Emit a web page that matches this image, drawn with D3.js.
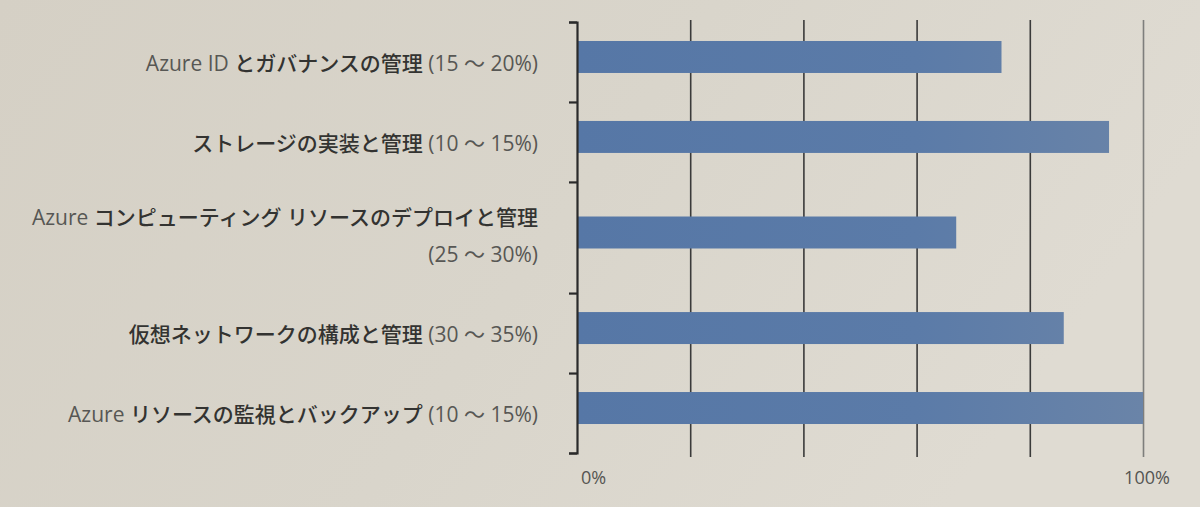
<!DOCTYPE html>
<html>
<head>
<meta charset="utf-8">
<script src="https://cdn.jsdelivr.net/npm/d3@7"></script>
<style>
  html, body { margin: 0; padding: 0; background: #d8d4cb; }
  svg { display: block; }
</style>
</head>
<body>
<svg id="chart" width="1200" height="507"></svg>
<script>
// ---- data ----
const categories = [
  "Azure ID とガバナンスの管理 (15 ～ 20%)",
  "ストレージの実装と管理 (10 ～ 15%)",
  "Azure コンピューティング リソースのデプロイと管理\n(25 ～ 30%)",
  "仮想ネットワークの構成と管理 (30 ～ 35%)",
  "Azure リソースの監視とバックアップ (10 ～ 15%)"
];
const values = [75, 94, 67, 86, 100];
const xTickValues = [0, 20, 40, 60, 80, 100];
const xTickLabels = ["0%", "", "", "", "", "100%"];

// ---- layout ----
const W = 1200, H = 507;
const plotLeft = 577, plotRight = 1143, plotTop = 22, plotBottom = 453;
const latinFont = 21, cjkFont = 21;

const svg = d3.select("#chart");

// background (photo-like paper tone)
const defs = svg.append("defs");
const bg = defs.append("linearGradient").attr("id", "bg")
  .attr("x1", "0").attr("y1", "0").attr("x2", "1").attr("y2", "0.3");
bg.append("stop").attr("offset", "0").attr("stop-color", "#d5d0c5");
bg.append("stop").attr("offset", "0.55").attr("stop-color", "#d9d5cb");
bg.append("stop").attr("offset", "1").attr("stop-color", "#dfdbd2");
svg.append("rect").attr("width", W).attr("height", H).attr("fill", "url(#bg)");

const barGrad = defs.append("linearGradient").attr("id", "barfill")
  .attr("gradientUnits", "userSpaceOnUse")
  .attr("x1", plotLeft).attr("y1", 0).attr("x2", plotRight).attr("y2", 0);
barGrad.append("stop").attr("offset", "0").attr("stop-color", "#5677a6");
barGrad.append("stop").attr("offset", "0.6").attr("stop-color", "#5b7ba8");
barGrad.append("stop").attr("offset", "1").attr("stop-color", "#6a84a8");

// scales
const x = d3.scaleLinear().domain([0, 100]).range([plotLeft, plotRight]);

const lineCounts = categories.map(c => c.split("\n").length);
const weights = lineCounts.map(n => 1 + 0.39 * (n - 1));
const bounds = [0, ...d3.cumsum(weights)];
const total = bounds[bounds.length - 1];
const yU = d3.scaleLinear().domain([0, total]).range([plotTop, plotBottom]);
const bandCenter = i => (yU(bounds[i]) + yU(bounds[i + 1])) / 2;
const unitPx = yU(1) - yU(0);
const barH = unitPx * 0.4;

// vertical gridlines (x axis ticks)
const gridAxis = d3.axisBottom(x)
  .tickValues(xTickValues.filter(v => v > 0))
  .tickSize(-(457 - 20))
  .tickFormat("");
const gGrid = svg.append("g").attr("transform", "translate(0,457)").call(gridAxis);
gGrid.select(".domain").remove();
gGrid.selectAll(".tick line")
  .attr("stroke", d => d === 100 ? "#7e7e7c" : "#3a3a3a")
  .attr("stroke-width", 1.6);

// bars
svg.append("g").selectAll("rect")
  .data(values)
  .join("rect")
  .attr("x", x(0))
  .attr("y", (d, i) => bandCenter(i) - 5 - barH / 2)
  .attr("width", d => x(d) - x(0))
  .attr("height", barH)
  .attr("fill", "url(#barfill)");

// y axis with category boundary ticks
const yAxis = d3.axisLeft(yU)
  .tickValues(bounds)
  .tickSize(8)
  .tickSizeOuter(8)
  .tickFormat("");
const gY = svg.append("g").attr("transform", `translate(${plotLeft},0)`).call(yAxis);
gY.selectAll("path, line").attr("stroke", "#2a2a2a").attr("stroke-width", 2.2);

// x tick labels
const gXL = svg.append("g");
gXL.selectAll("text")
  .data(xTickValues.map((v, i) => ({ v, t: xTickLabels[i] })).filter(d => d.t))
  .join("text")
  .attr("x", d => x(d.v) + 4)
  .attr("y", 484)
  .attr("text-anchor", d => d.v === 0 ? "start" : "middle")
  .attr("font-family", "'Open Sans', 'Noto Sans', sans-serif")
  .attr("font-size", 18)
  .attr("fill", "#555552")
  .text(d => d.t);

// category labels
const cjk = /([\u3000-\u30ff\u4e00-\u9fff]+)/;
const gLab = svg.append("g")
  .attr("text-anchor", "end");
categories.forEach((c, i) => {
  const lines = c.split("\n");
  const lineGap = 37;
  const c0 = bandCenter(i) + 3 - (lines.length - 1) * lineGap / 2 - (lines.length > 1 ? 3 : 0);
  lines.forEach((ln, j) => {
    const t = gLab.append("text")
      .attr("x", 538)
      .attr("y", c0 + j * lineGap)
      .attr("dy", "0.35em");
    ln.split(cjk).filter(s => s.length).forEach(part => {
      const isCJK = cjk.test(part);
      t.append("tspan")
        .attr("font-family", isCJK ? "'Noto Sans CJK JP', sans-serif" : "'Open Sans', 'Noto Sans', 'Noto Sans CJK JP', sans-serif")
        .attr("font-size", isCJK ? cjkFont : latinFont)
        .attr("font-weight", isCJK ? 500 : 400)
        .attr("fill", isCJK ? "#333331" : "#575754")
        .text(part);
    });
  });
});
</script>
</body>
</html>
